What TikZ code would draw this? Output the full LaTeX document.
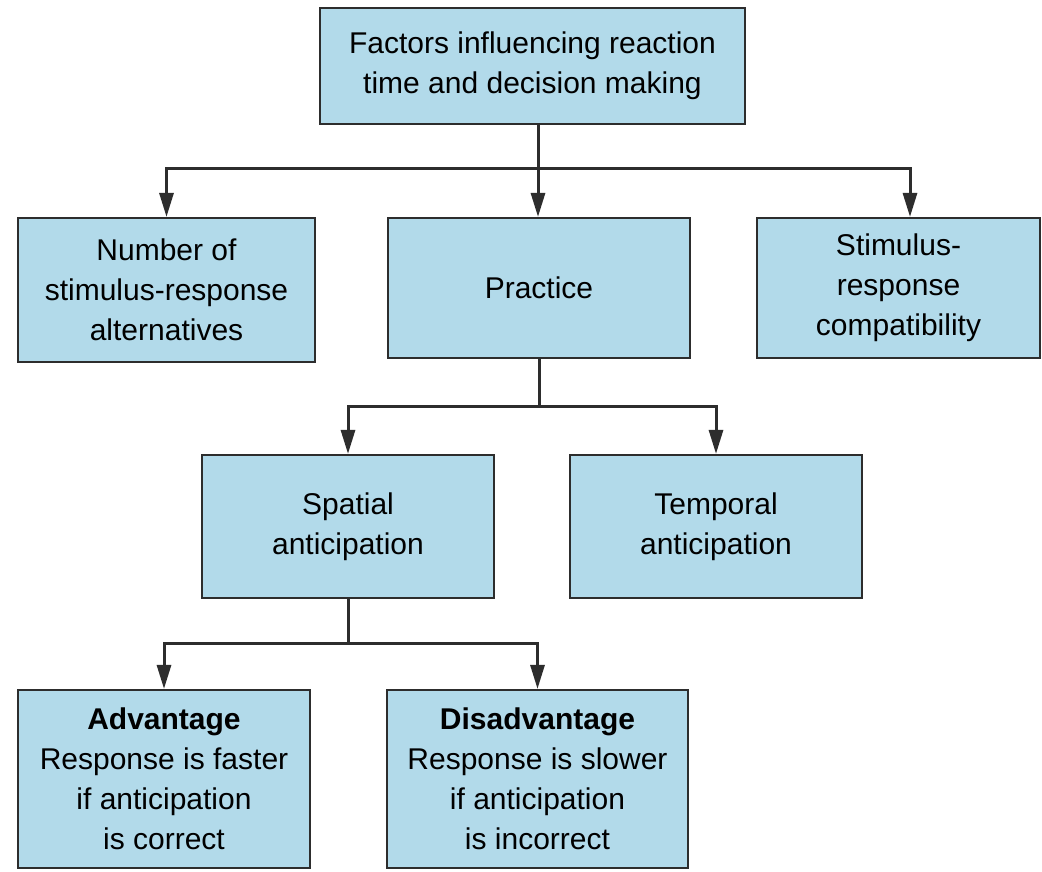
\documentclass[tikz,border=0pt]{standalone}
\usepackage{fontspec}
\setmainfont{Liberation Sans}
\usetikzlibrary{arrows.meta,calc}
\definecolor{boxfill}{RGB}{178,218,234}
\definecolor{edge}{RGB}{45,45,45}
\begin{document}
\begin{tikzpicture}[x=1pt,y=1pt,
  box/.style={draw=edge,line width=2.2pt,fill=boxfill,align=center,
    font=\fontsize{30}{40}\selectfont,inner sep=0pt},
  conn/.style={draw=edge,line width=3pt,-{Triangle[length=24pt,width=14pt]}}]
\useasboundingbox (0,0) rectangle (1042,-871);
\fill[white] (0,0) rectangle (1042,-871);
\node[box,minimum width=425,minimum height=116] (top) at (532.5,-66)
  {Factors influencing reaction\\time and decision making};
\node[box,minimum width=297,minimum height=144] (n1) at (166.5,-290)
  {Number of\\stimulus-response\\alternatives};
\node[box,minimum width=302,minimum height=140] (pr) at (539,-288) {Practice};
\node[box,minimum width=283,minimum height=140] (sr) at (898.5,-288)
  {Stimulus-\\response\\compatibility};
\node[box,minimum width=292,minimum height=143] (sp) at (348,-526.5)
  {Spatial\\anticipation};
\node[box,minimum width=292,minimum height=143] (tp) at (716,-526.5)
  {Temporal\\anticipation};
\node[box,minimum width=292,minimum height=178] (adv) at (164,-779)
  {\textbf{Advantage}\\Response is faster\\if anticipation\\is correct};
\node[box,minimum width=301,minimum height=178] (dis) at (537.5,-779)
  {\textbf{Disadvantage}\\Response is slower\\if anticipation\\is incorrect};
\coordinate (b1) at ($(top.south)+(5.5,-43)$);
\draw[draw=edge,line width=3pt] ($(top.south)+(5.5,0)$) -- (b1);
\draw[conn] (b1) -| (n1.north);
\draw[conn] (b1) -- (b1 |- pr.north);
\draw[conn] (b1) -| ($(sr.north)+(11.5,0)$);
\coordinate (b2) at ($(pr.south)+(0,-47)$);
\draw[draw=edge,line width=3pt] (pr.south) -- (b2);
\draw[conn] (b2) -| (sp.north);
\draw[conn] (b2) -| (tp.north);
\coordinate (b3) at ($(sp.south)+(0,-44)$);
\draw[draw=edge,line width=3pt] (sp.south) -- (b3);
\draw[conn] (b3) -| (adv.north);
\draw[conn] (b3) -| (dis.north);
\end{tikzpicture}
\end{document}
